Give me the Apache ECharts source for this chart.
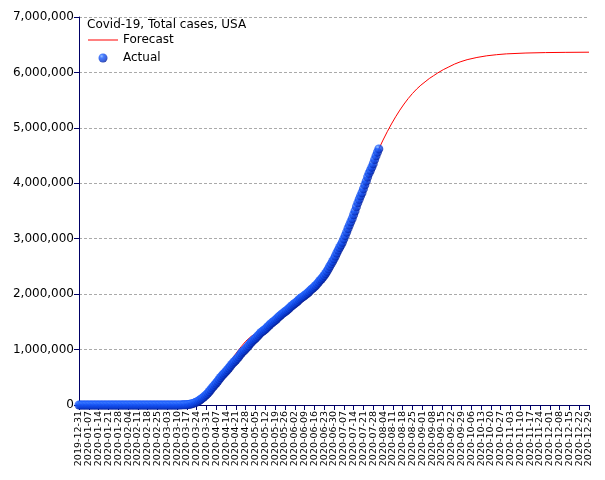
<!DOCTYPE html>
<html>
<head>
<meta charset="utf-8">
<script src="https://cdn.jsdelivr.net/npm/echarts@6/dist/echarts.min.js"></script>
<style>
  html, body { margin: 0; padding: 0; background: #fff; }
  #chart { width: 605px; height: 480px; }
</style>
</head>
<body>
<div id="chart"></div>
<script>
// daily categories, 2019-12-31 .. 2020-12-29
const startDate = Date.UTC(2019, 11, 31);
const dayCount = 365;
const dates = [];
for (let i = 0; i < dayCount; i++) {
  dates.push(new Date(startDate + i * 86400000).toISOString().slice(0, 10));
}

const yTicks = [0, 1000000, 2000000, 3000000, 4000000, 5000000, 6000000, 7000000];

// actual cumulative cases, one value per day from 2019-12-31 to 2020-08-01
const actual = [
  0,
  // Jan
  0, 0, 0, 0, 0, 0, 0, 0, 0, 0, 0, 0, 0, 0, 0, 0, 0, 0, 0, 0,
  1, 1, 1, 2, 2, 5, 5, 5, 5, 5, 6,
  // Feb
  7, 8, 8, 11, 11, 11, 12, 12, 12, 12, 12, 13, 13, 14, 15, 15, 15, 15, 15, 15,
  15, 35, 35, 35, 53, 53, 59, 60, 62,
  // Mar
  75, 100, 124, 158, 221, 319, 435, 541, 704, 994, 1301, 1630, 2183, 2770, 3613, 4596,
  6344, 9197, 13779, 19367, 24192, 33592, 43505, 53938, 68211, 85435, 104126, 123578,
  142460, 163955, 188172,
  // Apr
  213372, 243453, 275586, 308850, 337072, 366667, 396223, 429052, 461437, 496535,
  526396, 555313, 580619, 607670, 636350, 667592, 699706, 732197, 758809, 784326,
  811865, 840351, 869170, 905358, 938154, 965785, 988197, 1012582, 1039909, 1069424,
  // May
  1103461, 1132539, 1158040, 1180375, 1204351, 1228603, 1257023, 1283929, 1309550, 1329260,
  1347881, 1369376, 1390406, 1417774, 1442824, 1467820, 1486757, 1508308, 1528568, 1551853,
  1577147, 1600937, 1622612, 1643246, 1662302, 1680913, 1699933, 1721750, 1746019, 1770384,
  1790191,
  // Jun
  1811277, 1831821, 1851520, 1872660, 1897838, 1920061, 1938823, 1956421, 1973797, 1995180,
  2016027, 2039390, 2064638, 2089701, 2108658, 2132321, 2156902, 2184251, 2215816, 2248215,
  2273211, 2304708, 2336615, 2373164, 2412240, 2456660, 2502381, 2546110, 2590668, 2636414,
  // Jul
  2687588, 2742049, 2795163, 2841241, 2886267, 2936077, 2996098, 3055144, 3117946, 3184573,
  3245925, 3304942, 3363056, 3431574, 3499291, 3576157, 3647715, 3711413, 3773260, 3830010,
  3899211, 3970121, 4038816, 4112531, 4178970, 4233923, 4290337, 4351997, 4426982, 4495014,
  4562038,
  // Aug 1
  4620444
];

// forecast: [day index, cumulative cases]
const forecast = [
  [70, 1000], [77, 8000], [80, 20000], [84, 60000], [88, 130000], [91, 200000],
  [95, 320000], [98, 430000], [102, 590000], [105, 690000], [109, 820000], [112, 930000],
  [116, 1060000], [119, 1150000], [123, 1240000], [127, 1300000], [130, 1340000],
  [133, 1380000], [137, 1440000], [144, 1570000], [151, 1700000], [158, 1830000],
  [165, 1990000], [172, 2200000], [179, 2510000], [186, 2880000], [193, 3250000],
  [200, 3700000], [207, 4110000], [214, 4620000], [217, 4780000], [220, 4930000],
  [223, 5070000], [226, 5200000], [229, 5320000], [232, 5430000], [235, 5530000],
  [238, 5620000], [241, 5700000], [244, 5770000], [247, 5830000], [250, 5890000],
  [253, 5940000], [256, 5990000], [260, 6050000], [264, 6100000], [268, 6150000],
  [272, 6190000], [277, 6230000], [284, 6270000], [291, 6300000], [298, 6320000],
  [305, 6335000], [319, 6350000], [333, 6358000], [347, 6362000], [364, 6365000]
];

const axisColor = '#000066';
const font = 'DejaVu Sans';

const chart = echarts.init(document.getElementById('chart'));
chart.setOption({
  animation: false,
  backgroundColor: '#fff',
  textStyle: { fontFamily: font },
  title: {
    text: 'Covid-19, Total cases, USA',
    left: 87,
    top: 19,
    padding: 0,
    textStyle: { fontFamily: font, fontSize: 12, fontWeight: 'normal', color: '#000' }
  },
  legend: {
    orient: 'vertical',
    left: 88,
    top: 34,
    itemWidth: 30,
    itemHeight: 9,
    itemGap: 6,
    padding: 0,
    textStyle: { fontFamily: font, fontSize: 12, color: '#000' },
    data: [
      { name: 'Forecast', icon: 'path://M0,0H30V1H0Z' },
      { name: 'Actual' }
    ]
  },
  grid: { left: 79, right: 16, top: 17, bottom: 75, containLabel: false },
  xAxis: {
    type: 'category',
    data: dates,
    boundaryGap: false,
    axisLine: { lineStyle: { color: axisColor, width: 1 } },
    axisTick: { interval: 6, length: 5, lineStyle: { color: axisColor } },
    axisLabel: {
      interval: 6,
      rotate: 90,
      fontSize: 9.5,
      color: '#000',
      fontFamily: font,
      margin: 6
    },
    splitLine: { show: false }
  },
  yAxis: {
    type: 'value',
    min: yTicks[0],
    max: yTicks[yTicks.length - 1],
    interval: 1000000,
    axisLine: { show: true, lineStyle: { color: axisColor, width: 1 } },
    axisTick: { show: true, length: 5, lineStyle: { color: axisColor } },
    axisLabel: {
      fontSize: 12,
      color: '#000',
      fontFamily: font,
      margin: 5,
      formatter: (v) => v.toLocaleString('en-US')
    },
    splitLine: { lineStyle: { color: '#aaa', type: [3, 2], width: 1 } }
  },
  series: [
    {
      name: 'Forecast',
      type: 'line',
      data: forecast,
      symbol: 'none',
      smooth: false,
      z: 2,
      itemStyle: { color: '#ff0000' },
      lineStyle: { color: '#ff0000', width: 1 }
    },
    {
      name: 'Actual',
      type: 'scatter',
      data: actual,
      symbol: 'circle',
      symbolSize: 9,
      z: 3,
      itemStyle: {
        color: {
          type: 'radial', x: 0.35, y: 0.3, r: 0.75,
          colorStops: [
            { offset: 0, color: '#7fb4ff' },
            { offset: 0.3, color: '#1a5cff' },
            { offset: 0.75, color: '#0a3ad0' },
            { offset: 1, color: '#00168a' }
          ]
        }
      }
    }
  ]
});
</script>
</body>
</html>
